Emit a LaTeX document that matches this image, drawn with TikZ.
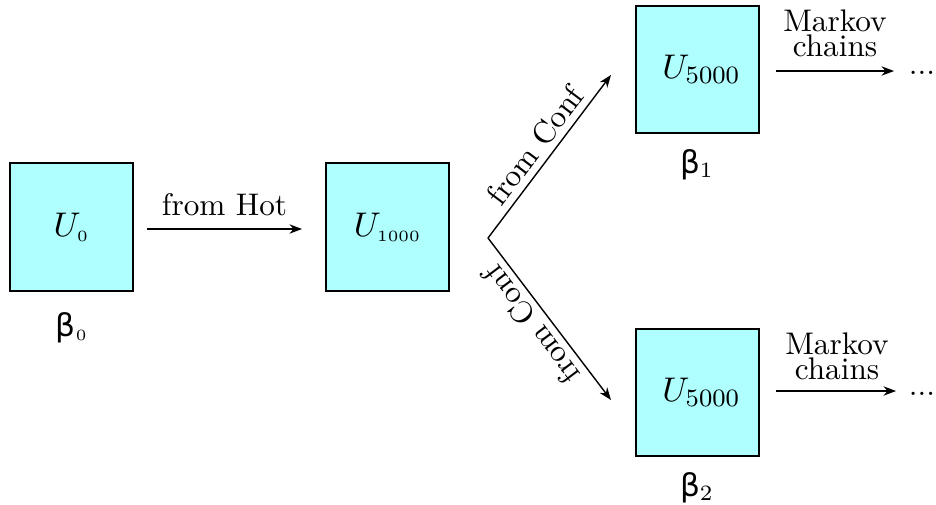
\documentclass[tikz,border=0pt]{standalone}
\usepackage{fontspec}
\newfontfamily\betafont{DejaVu Sans}
\usetikzlibrary{arrows.meta}
\definecolor{boxcyan}{RGB}{175,255,255}
\begin{document}
\begin{tikzpicture}[x=0.32pt,y=-0.32pt,
  ubox/.style={draw=black,line width=0.6pt,fill=boxcyan,minimum width=39.4pt,minimum height=40.8pt,inner sep=0pt,font=\fontsize{10.5}{12}\selectfont},
  ubigbox/.style={ubox,font=\fontsize{11}{13}\selectfont},
  conn/.style={line width=0.45pt,-{Stealth[length=4pt,width=3pt]}},
  lbl/.style={font=\fontsize{10}{12}\selectfont,inner sep=0pt},
  blbl/.style={inner sep=0pt,anchor=base}]
\useasboundingbox (0,0) rectangle (936,505);
% boxes
\node[ubox] (u0) at (71.5,227) {$U_{\scriptscriptstyle 0}$};
\node[ubox] (u1) at (387.5,227) {$U_{\scriptscriptstyle 1000}$};
\node[ubigbox] (u5a) at (697.5,69.5) {\hspace{2.5pt}$U_{5000}$};
\node[ubigbox] (u5b) at (697.5,392.5) {\hspace{2.5pt}$U_{5000}$};
% beta labels
\node[blbl] (b0) at (72,336) {\fontsize{10}{12}\betafont β$_{\scriptscriptstyle 0}$};
\node[blbl] (b1) at (697,173) {\fontsize{10}{12}\betafont β$_1$};
\node[blbl] (b2) at (697,496) {\fontsize{10}{12}\betafont β$_2$};
% dots
\node[lbl,anchor=base] (d1) at (922,75) {...};
\node[lbl,anchor=base] (d2) at (922,395) {...};
% coordinates
\coordinate (h1) at (147,229);
\coordinate (h2) at (302,229);
\coordinate (br) at (488,238);
\coordinate (t1) at (611,75);
\coordinate (t2) at (611,400);
\coordinate (m1s) at (776,71);
\coordinate (m1e) at (894,71);
\coordinate (m2s) at (776,391);
\coordinate (m2e) at (896,391);
% arrows
\draw[conn] (h1) -- (h2) node[midway,lbl,anchor=south,yshift=4pt] (fh) {from Hot};
\draw[conn] (br) -- (t1) node[pos=0.5,lbl,rotate=53,anchor=south,inner sep=2pt] (fc1) {from Conf};
\draw[conn] (br) -- (t2) node[pos=0.47,lbl,rotate=127,anchor=south,inner sep=2pt] (fc2) {from Conf};
\draw[conn] (m1s) -- (m1e);
\draw[conn] (m2s) -- (m2e);
\node[lbl,anchor=base] (mk1) at (835,32) {Markov};
\node[lbl,anchor=base] (ch1) at (835,57) {chains};
\node[lbl,anchor=base] (mk2) at (837,354) {Markov};
\node[lbl,anchor=base] (ch2) at (837,379) {chains};
\end{tikzpicture}
\end{document}
